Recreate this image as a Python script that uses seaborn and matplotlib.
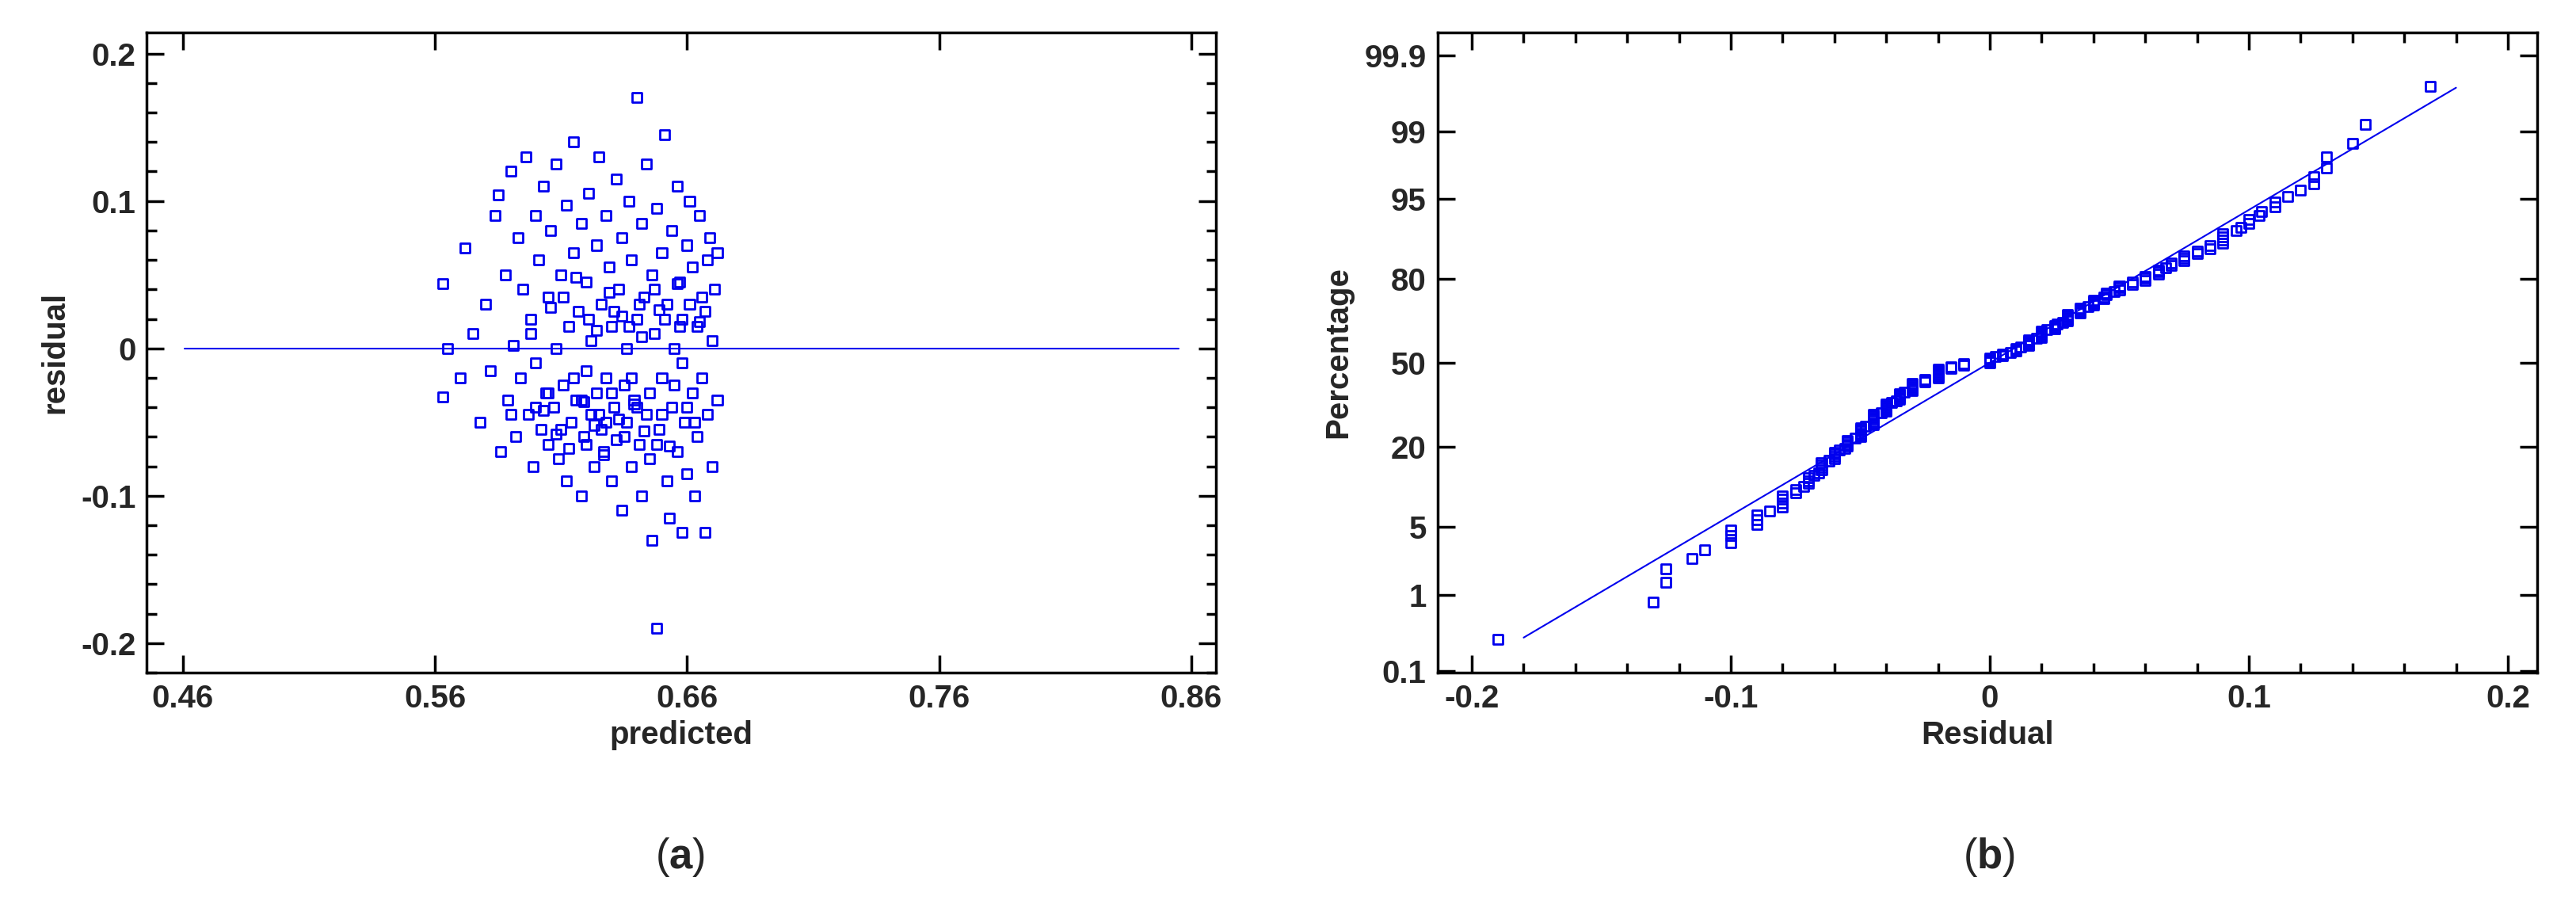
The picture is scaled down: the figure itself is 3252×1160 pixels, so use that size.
import math
import numpy as np
import matplotlib
matplotlib.use('Agg')
import matplotlib.pyplot as plt
import seaborn as sns
from matplotlib.ticker import MultipleLocator, FixedLocator

sns.set_style('ticks')
plt.rcParams['font.family'] = ['Liberation Sans', 'DejaVu Sans']
plt.rcParams['mathtext.fontset'] = 'custom'
plt.rcParams['mathtext.bf'] = 'Liberation Sans:bold'

# predicted values and residuals
predicted = [
    0.563, 0.563, 0.565, 0.570, 0.572, 0.575, 0.578, 0.580, 0.582, 0.584,
    0.585, 0.586, 0.588, 0.589, 0.590, 0.591, 0.592, 0.593, 0.594, 0.595,
    0.596, 0.597, 0.598, 0.599, 0.600, 0.600, 0.601, 0.602, 0.603, 0.604,
    0.605, 0.605, 0.606, 0.607, 0.608, 0.608, 0.609, 0.610, 0.611, 0.612,
    0.612, 0.613, 0.614, 0.615, 0.615, 0.616, 0.617, 0.618, 0.618, 0.619,
    0.620, 0.620, 0.621, 0.622, 0.622, 0.623, 0.624, 0.624, 0.625, 0.626,
    0.626, 0.627, 0.628, 0.628, 0.629, 0.630, 0.630, 0.631, 0.632, 0.632,
    0.633, 0.634, 0.634, 0.635, 0.636, 0.636, 0.637, 0.638, 0.638, 0.639,
    0.640, 0.640, 0.641, 0.642, 0.642, 0.643, 0.644, 0.644, 0.645, 0.646,
    0.646, 0.647, 0.648, 0.648, 0.649, 0.650, 0.650, 0.651, 0.652, 0.652,
    0.653, 0.654, 0.654, 0.655, 0.656, 0.656, 0.657, 0.658, 0.658, 0.659,
    0.660, 0.660, 0.661, 0.662, 0.662, 0.663, 0.664, 0.664, 0.665, 0.666,
    0.666, 0.667, 0.668, 0.668, 0.669, 0.670, 0.670, 0.671, 0.672, 0.672,
    0.615, 0.620, 0.625, 0.630, 0.635, 0.640, 0.645, 0.650, 0.655, 0.660,
    0.605, 0.610, 0.600, 0.590, 0.618, 0.628, 0.638, 0.648, 0.658, 0.663,
    0.641, 0.651, 0.661, 0.631, 0.621, 0.611, 0.667, 0.657, 0.647, 0.637,
    0.603, 0.608, 0.613, 0.619, 0.623, 0.627, 0.633, 0.639, 0.643, 0.653,
    0.598, 0.606, 0.616, 0.624, 0.629, 0.634, 0.642, 0.649, 0.656, 0.665,
]
residual = [
    -0.033, 0.044, 0.000, -0.020, 0.068, 0.010, -0.050, 0.030, -0.015, 0.090,
    0.104, -0.070, 0.050, -0.035, 0.120, 0.002, -0.060, 0.075, -0.020, 0.040,
    0.130, -0.045, 0.020, -0.080, 0.090, -0.010, 0.060, -0.055, 0.110, -0.030,
    0.035, -0.065, 0.080, -0.040, 0.000, 0.125, -0.075, 0.050, -0.025, 0.097,
    -0.090, 0.015, -0.050, 0.140, 0.065, -0.035, 0.025, -0.100, 0.085, -0.060,
    0.045, -0.015, 0.105, -0.045, 0.005, -0.080, 0.070, -0.030, 0.130, -0.055,
    0.030, -0.070, 0.090, -0.020, 0.055, -0.090, 0.015, -0.040, 0.115, -0.062,
    0.040, -0.110, 0.075, -0.025, 0.000, -0.050, 0.100, -0.080, 0.060, -0.035,
    0.170, 0.020, -0.065, 0.085, -0.100, 0.035, -0.045, 0.125, -0.075, 0.050,
    -0.130, 0.010, -0.190, 0.095, -0.055, 0.065, -0.020, 0.145, -0.090, 0.030,
    -0.115, 0.080, -0.040, 0.000, 0.110, -0.070, 0.045, -0.125, 0.020, -0.050,
    0.070, -0.085, 0.100, -0.030, 0.055, -0.100, 0.015, -0.060, 0.090, -0.020,
    0.035, -0.125, 0.060, -0.045, 0.075, -0.080, 0.005, 0.040, -0.035, 0.065,
    -0.020, -0.065, -0.045, -0.030, -0.060, -0.040, -0.030, -0.045, -0.025, -0.040,
    -0.030, -0.055, -0.040, -0.045, -0.035, -0.050, -0.020, -0.065, -0.010, -0.050,
    0.030, 0.020, 0.030, 0.025, 0.020, 0.035, 0.025, 0.015, 0.040, 0.015,
    -0.042, -0.058, -0.068, -0.036, -0.052, -0.072, -0.048, -0.038, -0.056, -0.066,
    0.010, 0.028, 0.048, 0.012, 0.038, 0.022, 0.008, 0.026, 0.044, 0.018,
]
pct_ticks = [0.1, 1, 5, 20, 50, 80, 95, 99, 99.9]

BLUE = '#0000ee'

# normal probability scale helpers
_zg = np.linspace(-6, 6, 4001)
_pg = 100 * 0.5 * (1 + np.array([math.erf(z / math.sqrt(2)) for z in _zg]))


def pct_to_z(p):
    return np.interp(np.asarray(p, dtype=float), _pg, _zg)


def z_to_pct(z):
    return np.interp(np.asarray(z, dtype=float), _zg, _pg)


fig = plt.figure(figsize=(32.52, 11.6), dpi=100)
axa = fig.add_axes([0.057, 0.268, 0.415, 0.697])
axb = fig.add_axes([0.558, 0.268, 0.427, 0.697])

# (a) residual vs predicted
axa.axhline(0, xmin=0.035, xmax=0.965, color=BLUE, lw=1.5, zorder=1)
sns.scatterplot(x=predicted, y=residual, ax=axa, marker='s', s=75,
                facecolor='none', edgecolor=BLUE, linewidth=2, zorder=2)
axa.set_xlim(0.4457, 0.8698)
axa.set_ylim(-0.22, 0.2145)
axa.set_xticks([0.46, 0.56, 0.66, 0.76, 0.86])
axa.set_xticklabels(['0.46', '0.56', '0.66', '0.76', '0.86'])
axa.set_yticks([-0.2, -0.1, 0, 0.1, 0.2])
axa.set_yticklabels(['-0.2', '-0.1', '0', '0.1', '0.2'])
axa.yaxis.set_minor_locator(MultipleLocator(0.02))
axa.set_xlabel('predicted', fontsize=29, fontweight='bold', labelpad=6)
axa.set_ylabel('residual', fontsize=29, fontweight='bold', labelpad=10)

# (b) normal probability plot
res_sorted = np.sort(residual)
n = len(res_sorted)
pos = (np.arange(1, n + 1) - 0.5) / n * 100
mu, sd = np.mean(residual), np.std(residual)
line_x = np.array([-0.18, 0.18])
line_p = z_to_pct((line_x - mu) / sd)

axb.set_yscale('function', functions=(pct_to_z, z_to_pct))
sns.lineplot(x=line_x, y=line_p, ax=axb, color=BLUE, lw=1.5, zorder=1)
sns.scatterplot(x=res_sorted, y=pos, ax=axb, marker='s', s=75,
                facecolor='none', edgecolor=BLUE, linewidth=2, zorder=2)
axb.set_xlim(-0.2133, 0.2114)
axb.set_ylim(0.095, 99.955)
axb.set_xticks([-0.2, -0.1, 0, 0.1, 0.2])
axb.set_xticklabels(['-0.2', '-0.1', '0', '0.1', '0.2'])
axb.xaxis.set_minor_locator(MultipleLocator(0.02))
axb.yaxis.set_major_locator(FixedLocator(pct_ticks))
axb.yaxis.set_minor_locator(FixedLocator([]))
axb.set_yticklabels(['0.1', '1', '5', '20', '50', '80', '95', '99', '99.9'])
axb.set_xlabel('Residual', fontsize=29, fontweight='bold', labelpad=6)
axb.set_ylabel('Percentage', fontsize=29, fontweight='bold', labelpad=10)

for ax in (axa, axb):
    for sp in ax.spines.values():
        sp.set_linewidth(2.5)
        sp.set_color('black')
    ax.tick_params(which='both', direction='in', top=True, right=True,
                   width=2.5, color='black')
    ax.tick_params(which='major', length=16, labelsize=29, pad=10)
    ax.tick_params(which='minor', length=9)
    for lab in ax.get_xticklabels() + ax.get_yticklabels():
        lab.set_fontweight('bold')

fig.text(0.264, 0.055, r'($\mathbf{a}$)', fontsize=38, ha='center')
fig.text(0.772, 0.055, r'($\mathbf{b}$)', fontsize=38, ha='center')

fig.savefig('out.png', dpi=100)
